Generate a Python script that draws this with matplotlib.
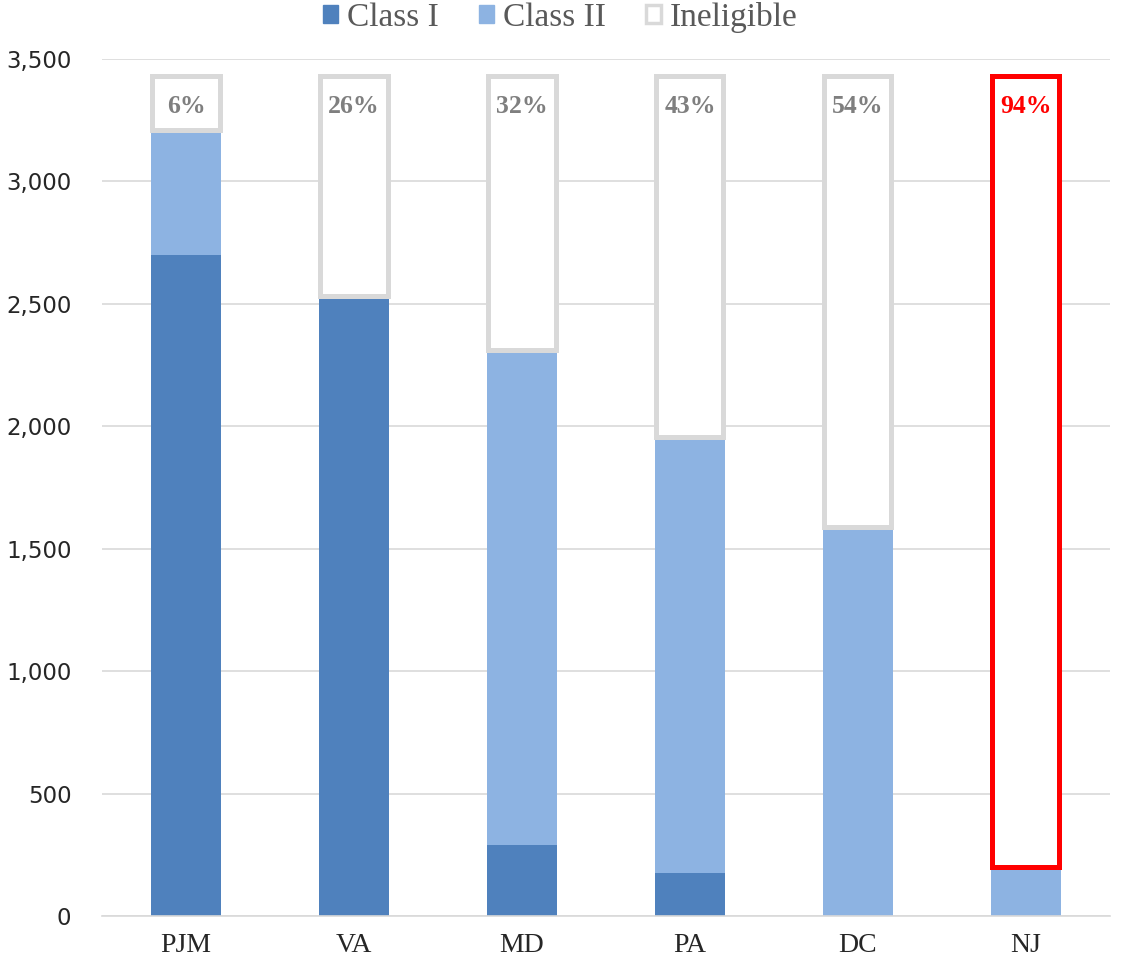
import matplotlib.pyplot as plt
import numpy as np
from matplotlib.patches import Patch

# Data
regions = ["PJM", "VA", "MD", "PA", "DC", "NJ"]
class_1 = [2700, 2530, 290, 175, 0, 0]
class_2 = [510, 0, 2020, 1780, 1590, 200]
ineligible = [220, 900, 1120, 1475, 1840, 3230]
pct_labels = ["6%", "26%", "32%", "43%", "54%", "94%"]

c1_color = "#4F81BD"
c2_color = "#8DB3E2"
grey = "#D9D9D9"

fig = plt.figure(figsize=(11.21, 9.73), dpi=100)
ax = fig.add_axes([0.091, 0.0586, 0.899, 0.8808])

x = np.arange(len(regions))
c1 = np.array(class_1)
c2 = np.array(class_2)
inel = np.array(ineligible)

ax.bar(x, c1, width=0.417, color=c1_color, zorder=2)
ax.bar(x, c2, width=0.417, bottom=c1, color=c2_color, zorder=2)
edge_colors = [grey] * (len(regions) - 1) + ["#FF0000"]
ax.bar(x, inel, width=0.40, bottom=c1 + c2, facecolor="white",
       edgecolor=edge_colors, linewidth=3.6, zorder=3)

# percentage labels inside the ineligible boxes
for i, lab in enumerate(pct_labels):
    top = c1[i] + c2[i] + inel[i]
    col = "#FF0000" if regions[i] == "NJ" else "#7F7F7F"
    ax.annotate(lab, (x[i], top), xytext=(0, -22), textcoords="offset points",
                ha="center", va="center", fontsize=18.5, fontweight="bold",
                color=col, family="Liberation Serif", zorder=4)

ax.set_xlim(-0.5, len(regions) - 0.5)
ax.set_ylim(0, 3500)
ax.set_yticks(np.arange(0, 3501, 500))
ax.set_yticklabels([f"{v:,}" for v in range(0, 3501, 500)])
ax.set_xticks(x)
ax.set_xticklabels(regions, family="Liberation Serif", fontsize=20, color="#262626")
ax.tick_params(axis="y", length=0, labelsize=16.5, labelcolor="#262626", pad=22)
ax.tick_params(axis="x", length=0, pad=12)
ax.grid(axis="y", color=grey, linewidth=1.2, zorder=0)
ax.set_axisbelow(True)
for s in ["left", "right", "top"]:
    ax.spines[s].set_visible(False)
ax.spines["bottom"].set_color(grey)
ax.spines["bottom"].set_linewidth(1.2)

handles = [Patch(facecolor=c1_color, edgecolor=c1_color),
           Patch(facecolor=c2_color, edgecolor=c2_color),
           Patch(facecolor="white", edgecolor=grey, linewidth=2.5)]
fig.legend(handles, ["Class I", "Class II", "Ineligible"], loc="center",
           bbox_to_anchor=(0.5, 0.982), ncol=3, frameon=False,
           prop={"family": "Liberation Serif", "size": 24},
           labelcolor="#595959", handlelength=0.45, handleheight=0.45,
           handletextpad=0.27, columnspacing=1.2)

plt.savefig("out.png", dpi=100)
plt.close()
